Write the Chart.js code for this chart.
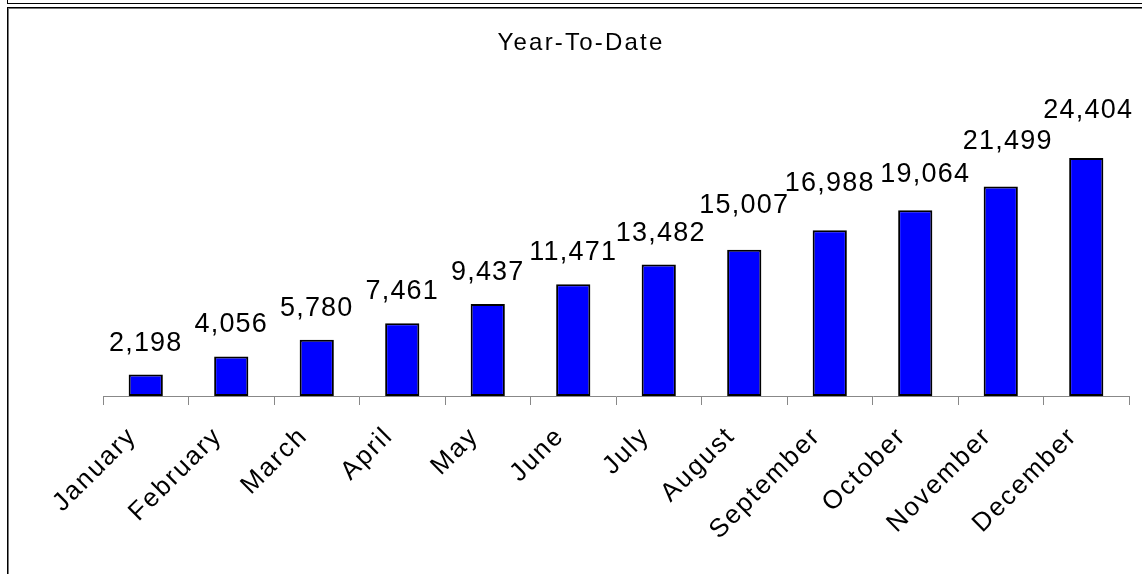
<!DOCTYPE html>
<html lang="en">
<head>
  <meta charset="UTF-8" />
  <title>Year-To-Date</title>
  <script src="https://cdn.jsdelivr.net/npm/chart.js"></script>
  <style>
    body { margin: 0; background: #fff; overflow: hidden; }
    .prev  { position: absolute; left: 7px; top: -20px; width: 1200px; height: 22px; border: 1px solid #000; }
    .frame { position: absolute; left: 7px; top: 7px; width: 1200px; height: 600px;
             border-top: 1px solid #000; border-left: 1px solid #000;
             box-shadow: inset 1px 1px 0 #777; }
    #ytd { position: absolute; left: 0; top: 0; }
  </style>
</head>
<body>
  <div class="prev"></div>
  <div class="frame"></div>
  <canvas id="ytd" width="1142" height="574"></canvas>

  <script>
    const months = ['January', 'February', 'March', 'April', 'May', 'June',
                    'July', 'August', 'September', 'October', 'November', 'December'];
    const totals = [2198, 4056, 5780, 7461, 9437, 11471, 13482, 15007, 16988, 19064, 21499, 24404];

    const FONT = "'Liberation Sans', Arial, sans-serif";

    // value labels above each bar, some lifted / shifted so they don't collide
    const valueLabels = {
      id: 'valueLabels',
      afterDatasetsDraw(chart, args, opts) {
        const ctx = chart.ctx;
        const bars = chart.getDatasetMeta(0).data;
        ctx.save();
        ctx.font = '27px ' + FONT;
        ctx.letterSpacing = '1.2px';
        ctx.fillStyle = '#000';
        ctx.textAlign = 'center';
        ctx.textBaseline = 'alphabetic';
        bars.forEach((bar, i) => {
          const text = totals[i].toLocaleString('en-US');
          ctx.fillText(text, bar.x + (opts.shift[i] || 0), bar.y - 24 - (opts.lift[i] || 0));
        });
        ctx.restore();
      }
    };

    const chartTitle = {
      id: 'chartTitle',
      afterDraw(chart) {
        const ctx = chart.ctx;
        ctx.save();
        ctx.font = '24px ' + FONT;
        ctx.letterSpacing = '2.2px';
        ctx.fillStyle = '#000';
        ctx.textAlign = 'center';
        ctx.textBaseline = 'alphabetic';
        ctx.fillText('Year-To-Date', 581, 50);
        ctx.restore();
      }
    };

    // tick labels are spaced a little wider than the canvas default
    const spacing = {
      id: 'spacing',
      beforeLayout(chart) { chart.ctx.letterSpacing = '2px'; },
      beforeDraw(chart) { chart.ctx.letterSpacing = '2px'; }
    };

    new Chart(document.getElementById('ytd'), {
      type: 'bar',
      data: {
        labels: months,
        datasets: [{
          data: totals,
          backgroundColor: '#0000ff',
          borderColor: '#000',
          borderWidth: 2,
          borderSkipped: false,
          categoryPercentage: 0.8,
          barPercentage: 0.5
        }]
      },
      options: {
        responsive: false,
        animation: false,
        devicePixelRatio: 1,
        layout: { padding: { left: 103, right: 13, top: 103.5, bottom: 0 } },
        plugins: {
          legend: { display: false },
          title: { display: false },
          tooltip: { enabled: false },
          valueLabels: {
            lift:  [0, 0, 0, 0, 0, 0, 0, 13, 15, 4, 13, 16],
            shift: [0, 0, 0, 0, 0, 0, 2, 0, 0, 10, 7, 2]
          }
        },
        scales: {
          x: {
            offset: true,
            grid: { display: true, offset: true, drawOnChartArea: false, tickLength: 9, color: '#888', lineWidth: 1 },
            border: { display: true, color: '#888', width: 1 },
            ticks: {
              autoSkip: false,
              minRotation: 45,
              maxRotation: 45,
              padding: 16,
              labelOffset: -13,
              color: '#000',
              font: { family: FONT, size: 26 }
            },
            afterFit(scale) { scale.height = 178; }
          },
          y: {
            display: false,
            min: 0,
            max: 30000
          }
        }
      },
      plugins: [spacing, valueLabels, chartTitle]
    });
  </script>
</body>
</html>
